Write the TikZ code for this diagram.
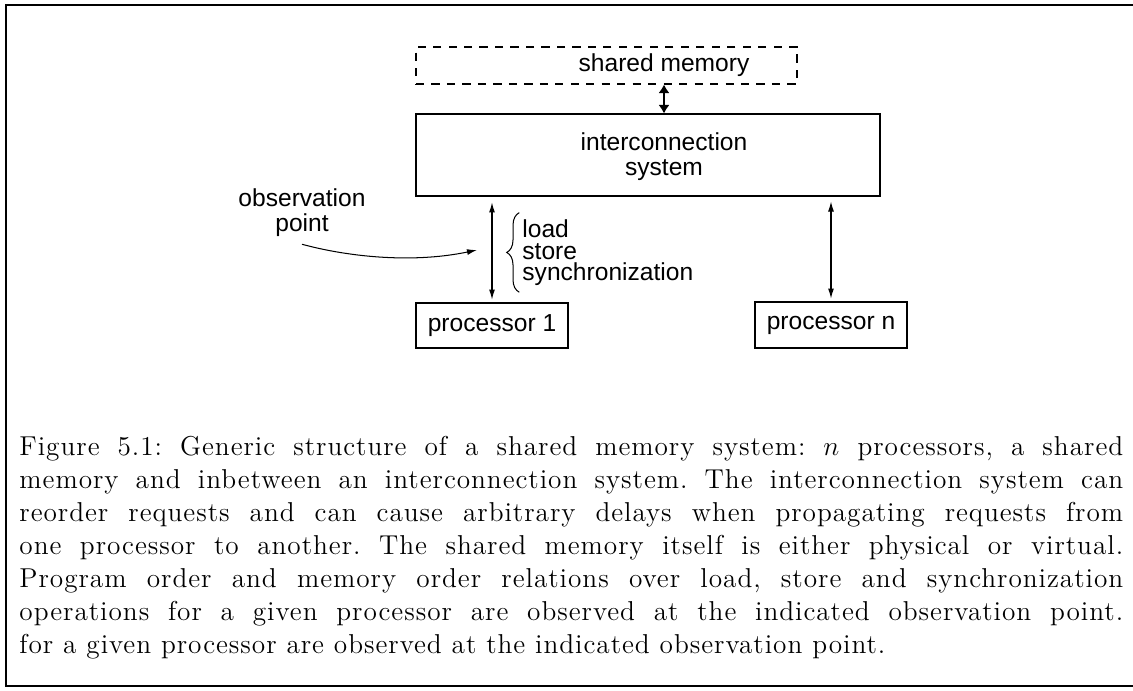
\documentclass[tikz,border=0pt]{standalone}
\usepackage{fontspec}
\newfontfamily\diagfont{Liberation Sans}
\newfontfamily\capfont[LetterSpace=3.5]{Latin Modern Roman}
\usepackage{tikz}
\usetikzlibrary{arrows.meta,decorations.pathreplacing}
\tikzset{>={Latex[width=2.6pt,length=4.4pt]}}
\newcommand{\pxu}{0.4394pt}
\tikzset{
	box/.style={draw=black, line width=0.45pt, inner sep=0pt},
	dashbox/.style={box, dash pattern=on 3.6pt off 3.2pt},
	lbl/.style={inner sep=0pt, font=\diagfont\fontsize{10.8}{11}\selectfont},
	bigarrow/.style={line width=1.2pt, {Latex[width=5pt,length=3.8pt]}-{Latex[width=5pt,length=3.8pt]}}
}

\begin{document}
\begin{tikzpicture}[x=0.4394pt, y=-0.4394pt]
					\useasboundingbox (0, 0) rectangle (1133, 690);
					% frame round figure and caption
					\draw[line width=0.9pt] (1133, 5) -- (6, 5) -- (6, 686) -- (1133, 686);
					% boxes
					\node[dashbox, minimum width=381*\pxu, minimum height=37*\pxu] (mem) at (606.5, 65.5) {};
					\node[lbl] (memtext) at (664, 65) {shared memory};
					\node[box, minimum width=464*\pxu, minimum height=82*\pxu] (ics) at (648, 155) {};
					\node[lbl, align=center] (icstext) at (664, 157) {interconnection\\system};
					\node[box, lbl, minimum width=152*\pxu, minimum height=45*\pxu] (p1) at (492, 325.5) {processor 1};
					\node[box, lbl, minimum width=152*\pxu, minimum height=46*\pxu] (pn) at (831, 325) {processor n};
					% connections
					\draw[bigarrow] (mem.south -| memtext) -- (ics.north -| memtext);
					\draw[<->, line width=0.45pt, shorten <=2.6pt, shorten >=1.3pt] (ics.south -| p1) -- (p1.north);
					\draw[<->, line width=0.45pt, shorten <=2.2pt, shorten >=1.3pt] (ics.south -| pn) -- (pn.north);
					% operations and observation point
					\node[lbl, anchor=west, align=left, font=\diagfont\fontsize{10.8}{9.5}\selectfont] (ops) at (522, 253) {load\\store\\synchronization};
					\draw[line width=0.45pt, decorate, decoration={brace, amplitude=5.5pt}] ([xshift=-1.2pt, yshift=-2.5pt]ops.south west) -- ([xshift=-1.2pt, yshift=3pt]ops.north west);
					\node[lbl, align=center] (obs) at (302, 213) {observation\\point};
					\coordinate (obspt) at (477, 250);
					\draw[->, line width=0.45pt] ([yshift=-3pt]obs.south) .. controls (345, 256) and (410, 264) .. (obspt);
					% caption
					\node[anchor=base west, inner sep=0pt, text width=485pt, align=justify, font=\capfont\fontsize{12}{14.5}\selectfont\frenchspacing] (caption) at (19, 455) {Figure 5.1: Generic structure of a shared memory system: $n$ processors, a shared\linebreak
memory and inbetween an interconnection system. The interconnection system can\linebreak
reorder requests and can cause arbitrary delays when propagating requests from\linebreak
one processor to another. The shared memory itself is either physical or virtual.\linebreak
Program order and memory order relations over load, store and synchronization\linebreak
operations for a given processor are observed at the indicated observation point.\linebreak
for a given processor are observed at the indicated observation point.};
				\end{tikzpicture}
\end{document}
